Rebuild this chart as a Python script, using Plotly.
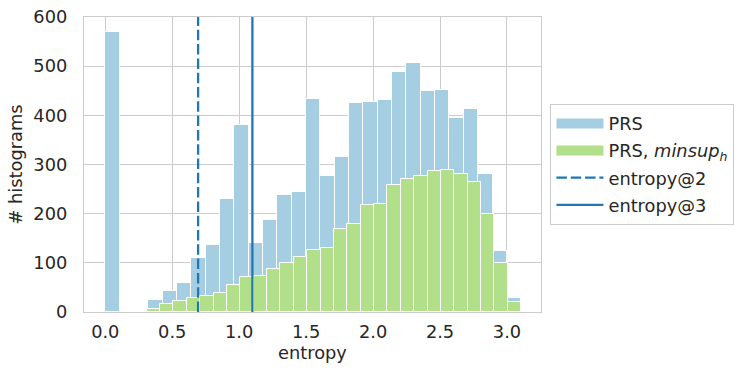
import numpy as np
import plotly.graph_objects as go

# Histogram of entropy over all PRS histograms (29 equal bins)
prs_range = (0.0, 3.106)
prs_counts = [570, 0, 0, 24, 42, 59, 110, 137, 230, 380, 140, 188, 238, 245, 433,
              277, 315, 426, 427, 431, 489, 506, 450, 452, 395, 413, 281, 124, 29]

# Same histogram restricted to minsup_h (28 equal bins)
minsup_range = (0.309, 3.106)
minsup_counts = [7, 17, 22, 29, 33, 39, 54, 71, 73, 88, 100, 112, 127, 131, 168,
                 180, 217, 220, 258, 270, 277, 287, 288, 281, 264, 199, 100, 20]

# Reference entropies: ln(2) and ln(3)
entropy_marks = {"entropy@2": np.log(2), "entropy@3": np.log(3)}

BLUE_LIGHT = "#a6cee3"
GREEN_LIGHT = "#b2df8a"
BLUE_DARK = "#1f78b4"
TEXT = "#262626"
GRID = "#cccccc"
FONT_SIZE = 17.8


def bars(counts, rng, color, name):
    edges = np.linspace(rng[0], rng[1], len(counts) + 1)
    centers = (edges[:-1] + edges[1:]) / 2
    widths = np.diff(edges)
    return go.Bar(x=centers, y=counts, width=widths, name=name,
                  legendgroup=name, showlegend=False,
                  marker=dict(color=color, line=dict(color="white", width=1)))


def patch_legend(color, name):
    # wide flat swatch in the legend for a bar series
    return go.Scatter(x=[None], y=[None], mode="lines", name=name,
                      legendgroup=name,
                      line=dict(color=color, width=10))


fig = go.Figure()
series = [(prs_counts, prs_range, BLUE_LIGHT, "PRS"),
          (minsup_counts, minsup_range, GREEN_LIGHT,
           "PRS, <i>minsup<sub>h</sub></i>")]
for counts, rng, color, name in series:
    fig.add_trace(bars(counts, rng, color, name))
for counts, rng, color, name in series:
    fig.add_trace(patch_legend(color, name))

ymax = 600
for (label, xv), dash in zip(entropy_marks.items(), ["10.5px,3.8px", "solid"]):
    fig.add_trace(go.Scatter(x=[xv, xv], y=[0, ymax], mode="lines", name=label,
                             legendgroup=label,
                             line=dict(color=BLUE_DARK, width=2.3, dash=dash)))

axis_common = dict(showgrid=True, gridcolor=GRID, gridwidth=1, showline=True,
                   linecolor=GRID, linewidth=1.3, mirror=True, ticks="",
                   zeroline=False, automargin=False,
                   tickfont=dict(size=FONT_SIZE, color=TEXT),
                   title_font=dict(size=FONT_SIZE, color=TEXT))

fig.update_layout(
    width=748, height=370,
    margin=dict(l=84, r=207, t=17, b=58),
    paper_bgcolor="white", plot_bgcolor="white",
    barmode="overlay", bargap=0,
    font=dict(family="DejaVu Sans", color=TEXT),
    showlegend=True,
    legend=dict(x=1.02, y=0.705, xanchor="left", yanchor="top",
                bordercolor=GRID, borderwidth=1.3, bgcolor="white",
                font=dict(size=FONT_SIZE, color=TEXT), tracegroupgap=1,
                traceorder="grouped", itemwidth=47),
)
fig.update_xaxes(range=[-0.159, 3.254], tickvals=[0, 0.5, 1, 1.5, 2, 2.5, 3],
                 ticktext=["0.0", "0.5", "1.0", "1.5", "2.0", "2.5", "3.0"],
                 title_text="entropy", title_standoff=6, ticklabelstandoff=3,
                 **axis_common)
fig.update_yaxes(range=[0, ymax], dtick=100, title_text="# histograms",
                 title_standoff=6, ticklabelstandoff=12, **axis_common)

fig.write_html("out.html")
